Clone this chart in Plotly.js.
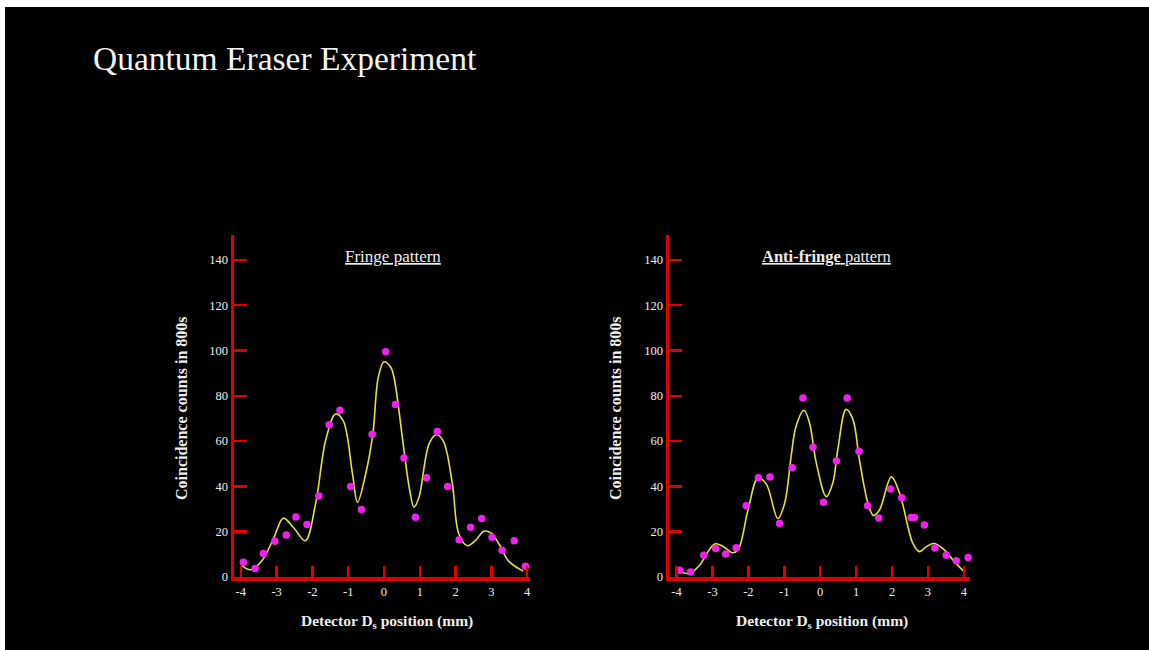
<!DOCTYPE html>
<html><head><meta charset="utf-8">
<script src="https://cdn.plot.ly/plotly-3.0.1.min.js"></script>
<style>html,body{margin:0;padding:0;background:#fff;}</style>
</head><body><div id="chart" style="width:1149px;height:650px;"></div>
<script>
// ---- data ----
const xTickVals = [-4,-3,-2,-1,0,1,2,3,4];
const yTickVals = [0,20,40,60,80,100,120,140];

// Fringe pattern: measured points
const fringeX = [-3.93,-3.60,-3.37,-3.05,-2.73,-2.46,-2.15,-1.82,-1.53,-1.23,-0.93,-0.63,-0.33,0.05,0.32,0.56,0.88,1.19,1.49,1.78,2.10,2.42,2.73,3.02,3.30,3.64,3.95];
const fringeY = [6.5,3.8,10.4,15.8,18.5,26.5,23.2,35.8,67.2,73.6,40.0,29.8,63.0,99.5,76.2,52.5,26.4,43.8,64.2,40.0,16.5,22.0,25.8,17.6,11.8,16.0,4.8];
// Fringe pattern: fitted curve
const fringeFitX = [-3.97,-3.72,-3.40,-3.07,-2.81,-2.51,-2.20,-1.91,-1.63,-1.35,-1.14,-0.88,-0.74,-0.51,-0.31,-0.16,0.00,0.19,0.28,0.56,0.72,0.84,0.98,1.26,1.46,1.65,1.91,2.09,2.33,2.56,2.79,2.98,3.21,3.49,3.89];
const fringeFitY = [5.0,3.2,7.4,17.6,26.0,21.5,16.0,32.4,60.3,72.0,69.0,45.6,33.0,45.6,63.2,88.0,95.0,92.6,88.2,55.9,38.2,30.8,35.3,58.8,62.8,60.3,41.2,19.1,13.8,16.2,20.2,19.6,14.7,6.9,2.6];

// Anti-fringe pattern: measured points
const antiX = [-3.91,-3.61,-3.24,-2.91,-2.63,-2.34,-2.06,-1.72,-1.40,-1.13,-0.78,-0.48,-0.20,0.09,0.45,0.75,1.08,1.32,1.63,1.96,2.27,2.53,2.62,2.90,3.19,3.51,3.79,4.12];
const antiY = [3.0,2.2,9.6,12.6,10.2,12.9,31.5,43.8,44.2,23.6,48.2,79.0,57.3,33.0,51.2,79.0,55.5,31.5,26.0,38.8,35.0,26.3,26.3,23.0,12.8,9.6,7.2,8.6];
// Anti-fringe pattern: fitted curve
const antiFitX = [-3.87,-3.64,-3.36,-2.94,-2.71,-2.45,-2.29,-2.01,-1.73,-1.50,-1.18,-0.99,-0.81,-0.67,-0.45,-0.30,-0.11,0.17,0.35,0.49,0.72,0.91,1.09,1.33,1.48,1.65,1.98,2.21,2.58,2.76,2.95,3.16,3.41,3.74,4.02];
const antiFitY = [2.2,1.5,5.2,14.6,13.6,10.7,11.9,29.6,43.8,41.0,25.8,32.6,53.3,66.7,73.6,68.1,50.4,35.5,41.5,56.3,74.0,69.6,51.9,32.6,27.2,29.6,44.2,37.0,14.8,11.2,13.3,14.8,12.6,6.7,2.2];

const fringeTitle = '<u>Fringe pattern</u>';
const antiTitle = '<u><b>Anti-fringe</b> pattern</u>';
const xTitle = '<b>Detector D<sub>s</sub> position (mm)</b>';
const yTitle = '<b>Coincidence counts in 800s</b>';
const mainTitle = 'Quantum Eraser Experiment';

// ---- styling ----
const W = 1149, H = 650;
const px = v => v / W;
const py = v => (H - v) / H;
const serif = 'Liberation Serif, DejaVu Serif, serif';
const RED = '#e00000';
const CURVE = '#e4e03c';
const DOT = '#f020f0';
const TXT = '#eeeeee';

function fitTrace(x, y, xa, ya) {
  return {x, y, xaxis: xa, yaxis: ya, type: 'scatter', mode: 'lines',
    line: {color: CURVE, width: 1.6, shape: 'spline', smoothing: 1.0},
    hoverinfo: 'skip', showlegend: false, cliponaxis: false};
}
function dotTrace(x, y, xa, ya) {
  return {x, y, xaxis: xa, yaxis: ya, type: 'scatter', mode: 'markers',
    marker: {color: DOT, size: 7.5}, showlegend: false, cliponaxis: false};
}

const data = [
  fitTrace(fringeFitX, fringeFitY, 'x', 'y'),
  dotTrace(fringeX, fringeY, 'x', 'y'),
  fitTrace(antiFitX, antiFitY, 'x2', 'y2'),
  dotTrace(antiX, antiY, 'x2', 'y2')
];

function xAxis(dom, rng, anchor) {
  return {domain: dom, range: rng, anchor: anchor, tickmode: 'array', tickvals: xTickVals,
    ticktext: xTickVals.map(String), showgrid: false, zeroline: false,
    showline: true, linecolor: RED, linewidth: 3.5, mirror: false,
    ticks: 'inside', ticklen: 11, tickwidth: 2.5, tickcolor: RED,
    tickfont: {family: serif, size: 12.5, color: TXT}, fixedrange: true};
}
function yAxis(dom, anchor) {
  return {domain: dom, range: [0, 151], anchor: anchor, tickmode: 'array', tickvals: yTickVals,
    ticktext: yTickVals.map(String), showgrid: false, zeroline: false,
    showline: true, linecolor: RED, linewidth: 3.5,
    ticks: 'inside', ticklen: 13, tickwidth: 2.5, tickcolor: RED,
    tickfont: {family: serif, size: 12.5, color: TXT}, fixedrange: true};
}

function ann(text, x, y, size, angle) {
  return {text: text, xref: 'paper', yref: 'paper', x: px(x), y: py(y),
    xanchor: 'center', yanchor: 'middle', textangle: angle || 0,
    showarrow: false, font: {family: serif, size: size, color: TXT}};
}

const yDom = [py(577), py(235)];
const layout = {
  width: W, height: H,
  margin: {l: 0, r: 0, t: 0, b: 0},
  paper_bgcolor: '#ffffff',
  plot_bgcolor: 'rgba(0,0,0,0)',
  showlegend: false,
  title: {text: mainTitle, x: px(93), xanchor: 'left', xref: 'paper',
    y: py(58), yanchor: 'middle', yref: 'paper',
    font: {family: serif, size: 33.5, color: '#f4f4f4'}},
  xaxis: xAxis([px(234), px(530)], [-4.19, 4.08], 'y'),
  yaxis: yAxis(yDom, 'x'),
  xaxis2: xAxis([px(669), px(970)], [-4.21, 4.17], 'y2'),
  yaxis2: yAxis(yDom, 'x2'),
  shapes: [
    {type: 'rect', xref: 'paper', yref: 'paper', x0: px(5), x1: 1, y0: 0, y1: py(7),
      fillcolor: '#000000', line: {width: 0}, layer: 'below'}
  ],
  annotations: [
    ann(fringeTitle, 393, 256, 17),
    ann(antiTitle, 826, 256, 16.5),
    ann(xTitle, 387, 621, 15.5),
    ann(xTitle, 822, 621, 15.5),
    ann(yTitle, 181, 408, 16, -90),
    ann(yTitle, 615, 408, 16, -90)
  ]
};

Plotly.newPlot('chart', data, layout, {displayModeBar: false, staticPlot: true});
</script>
</body></html>
